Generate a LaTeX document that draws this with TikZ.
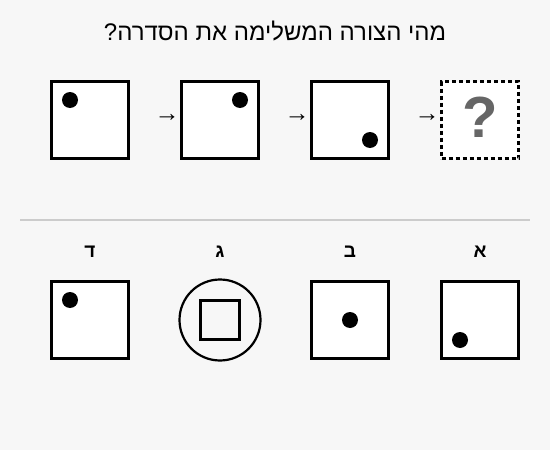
\documentclass[tikz,border=0pt]{standalone}
\usepackage{fontspec}
\setmainfont{Liberation Sans}
\newfontfamily\hebfont[Script=Hebrew]{Liberation Sans}
\TeXXeTstate=1

\definecolor{bggray}{HTML}{F7F7F7}
\definecolor{rulegray}{HTML}{CCCCCC}
\definecolor{qgray}{HTML}{666666}

\begin{document}
\begin{tikzpicture}[x=1pt,y=-1pt,
        panel/.style={draw,line width=3pt,fill=white,minimum size=77pt,inner sep=0pt},
        blank/.style={panel,dash pattern=on 4pt off 3pt},
        dot/.style={circle,fill=black,minimum size=16pt,inner sep=0pt},
        nextarrow/.style={font=\fontsize{25}{25}\selectfont,inner sep=0pt},
        choice/.style={font=\hebfont\bfseries\fontsize{19}{19}\selectfont,inner sep=0pt}]

    \fill[bggray] (0,0) rectangle (550,450);
    \useasboundingbox (0,0) rectangle (550,450);

    % title
    \node (title) at (275,31) {\hebfont\fontsize{24}{24}\selectfont\beginR מהי הצורה המשלימה את הסדרה?\endR};

    % the series
    \node[panel] (s1) at (90,120) {};
    \node[panel] (s2) at (220,120) {};
    \node[panel] (s3) at (350,120) {};
    \node[blank] (s4) at (480,120) {};
    \node[dot] (d1) at (70,100) {};
    \node[dot] (d2) at (240,100) {};
    \node[dot] (d3) at (370,140) {};
    \node[font=\bfseries\fontsize{58}{58}\selectfont,text=qgray,inner sep=0pt] (q) at (480,117) {?};
    \node[nextarrow] (a1) at (167,118) {→};
    \node[nextarrow] (a2) at (297,118) {→};
    \node[nextarrow] (a3) at (427,118) {→};

    % separator
    \draw[rulegray,line width=1.5pt] (20,220) -- (530,220);

    % the choices
    \node[choice] (ld) at (90,252) {ד};
    \node[choice] (lg) at (220,252) {ג};
    \node[choice] (lb) at (350,252) {ב};
    \node[choice] (la) at (480,252) {א};

    \node[panel] (cd) at (90,320) {};
    \node[dot] (dd) at (70,300) {};
    \node[circle,draw,line width=2.2pt,minimum size=81pt,inner sep=0pt] (cg) at (220,320) {};
    \node[draw,line width=2.7pt,minimum size=39.5pt,inner sep=0pt] (sg) at (220,320) {};
    \node[panel] (cb) at (350,320) {};
    \node[dot] (db) at (350,320) {};
    \node[panel] (ca) at (480,320) {};
    \node[dot] (da) at (460,340) {};
\end{tikzpicture}
\end{document}
